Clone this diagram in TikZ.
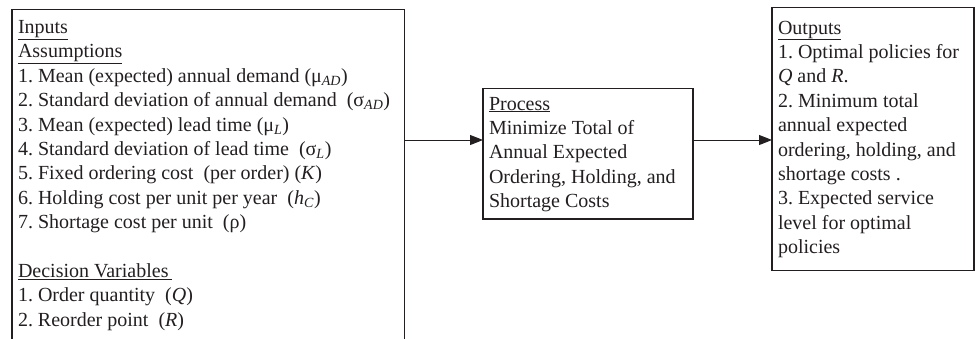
\documentclass[tikz,border=0pt]{standalone}
\usepackage{fontspec}
\setmainfont{Liberation Serif}
\usepackage{xcolor}
\usepackage{tikz}
\usetikzlibrary{arrows.meta}

\definecolor{ink}{RGB}{35,31,32}
\frenchspacing

\begin{document}
\begin{tikzpicture}[x=1pt,y=-1pt,>={Triangle[length=13pt,width=10pt]},
    box/.style={draw=ink,text=ink,line width=1.1pt,anchor=north west,outer sep=0pt,
      inner sep=6pt,align=flush left,font=\fontsize{20}{24.4}\selectfont}]
            \useasboundingbox (0,0) rectangle (975,338);
            \clip (0,0) rectangle (975,338);

            \node[box,text width=380.5pt,text height=18.2pt,text depth=305.5pt] (inputs) at (12,9.3)
            {\underline{Inputs}\\
             \underline{Assumptions}\\
             1. Mean (expected) annual demand (μ\textsubscript{\textit{AD}})\\
             \mbox{2. Standard deviation of annual demand\ \ (σ\textsubscript{\textit{AD}})}\\
             3. Mean (expected) lead time (μ\textsubscript{\textit{L}})\\
             4. Standard deviation of lead time\ \ (σ\textsubscript{\textit{L}})\\
             5. Fixed ordering cost\ \ (per order) (\textit{K})\\
             6. Holding cost per unit per year\ \ (\textit{h}\textsubscript{\textit{C}})\\
             7. Shortage cost per unit\ \ (ρ)\\[24.4pt]
             \underline{Decision Variables\,}\\
             1. Order quantity\ \ (\textit{Q})\\
             2. Reorder point\ \ (\textit{R})};
            \node[box,text width=198pt,text height=15.7pt,text depth=103pt] (process) at (483,88.3)
            {\underline{Process}\\
             Minimize Total of\\
             Annual Expected\\
             \mbox{Ordering, Holding, and}\\
             Shortage Costs};
            \node[box,text width=190pt,text height=20.5pt,text depth=230.5pt] (outputs) at (772,7.5)
            {\underline{Outputs}\\
             \mbox{1. Optimal policies for}\\
             \textit{Q} and \textit{R}.\\
             2. Minimum total\\
             annual expected\\
             \mbox{ordering, holding, and}\\
             shortage costs .\\
             3. Expected service\\
             level for optimal\\
             policies};

            \coordinate (flow) at (0,140);
            \draw[->,draw=ink,line width=1pt] (inputs.east |- flow) -- (process.west |- flow);
            \draw[->,draw=ink,line width=1pt] (process.east |- flow) -- (outputs.west |- flow);
        \end{tikzpicture}
\end{document}
